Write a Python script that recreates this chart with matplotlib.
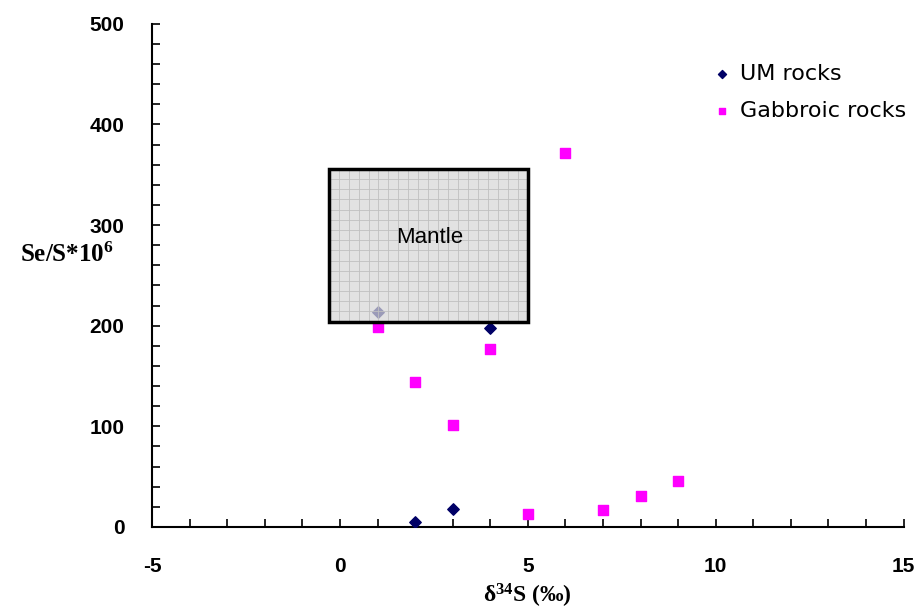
import numpy as np
import matplotlib.pyplot as plt
from matplotlib.patches import Rectangle
from matplotlib.ticker import MultipleLocator

plt.rcParams['axes.unicode_minus'] = False
plt.rcParams['mathtext.fontset'] = 'custom'
plt.rcParams['mathtext.rm'] = 'Liberation Serif'
plt.rcParams['mathtext.bf'] = 'Liberation Serif:bold'
plt.rcParams['mathtext.it'] = 'Liberation Serif:italic'

# data
um_x = [1, 2, 3, 4]
um_y = [214, 5, 18, 198]
gab_x = [1, 2, 3, 4, 5, 6, 7, 8, 9]
gab_y = [199, 144, 101, 177, 13, 372, 17, 31, 46]

# mantle field
mantle_x = (-0.3, 5.0)
mantle_y = (204, 356)

fig = plt.figure(figsize=(9.22, 6.12), dpi=100)
ax = fig.add_axes([0.165, 0.139, 0.815, 0.822])

ax.scatter(gab_x, gab_y, marker='s', s=48, color='#ff00ff', label='Gabbroic rocks', zorder=3)
ax.scatter(um_x, um_y, marker='D', s=34, color='#000066', label='UM rocks', zorder=3)

# mantle box: grey with fine grid, semi transparent so the point underneath shows
ax.add_patch(Rectangle((mantle_x[0], mantle_y[0]), mantle_x[1] - mantle_x[0],
                       mantle_y[1] - mantle_y[0], facecolor='#d8d8d8', alpha=0.72,
                       edgecolor='none', zorder=4))
for gx in np.linspace(mantle_x[0], mantle_x[1], 21)[1:-1]:
    ax.plot([gx, gx], mantle_y, color='#c0c0c0', lw=0.6, zorder=4.5)
for gy in np.linspace(mantle_y[0], mantle_y[1], 16)[1:-1]:
    ax.plot(mantle_x, [gy, gy], color='#c0c0c0', lw=0.6, zorder=4.5)
ax.add_patch(Rectangle((mantle_x[0], mantle_y[0]), mantle_x[1] - mantle_x[0],
                       mantle_y[1] - mantle_y[0], facecolor='none',
                       edgecolor='black', lw=2.5, zorder=5))
ax.text(2.4, 288, 'Mantle', fontsize=16, family='Liberation Sans',
        ha='center', va='center', zorder=6)

ax.set_xlim(-5, 15)
ax.set_ylim(0, 500)
ax.xaxis.set_major_locator(MultipleLocator(5))
ax.xaxis.set_minor_locator(MultipleLocator(1))
ax.yaxis.set_major_locator(MultipleLocator(100))
ax.yaxis.set_minor_locator(MultipleLocator(20))
ax.tick_params(which='both', direction='in', width=1.2, labelsize=15)
ax.tick_params(which='major', length=6)
ax.tick_params(which='minor', length=6)
ax.tick_params(axis='x', pad=22)
ax.tick_params(axis='y', pad=20)
for lab in ax.get_xticklabels() + ax.get_yticklabels():
    lab.set_fontweight('bold')
    lab.set_family('Liberation Sans')

ax.spines['top'].set_visible(False)
ax.spines['right'].set_visible(False)
ax.spines['left'].set_linewidth(1.5)
ax.spines['bottom'].set_linewidth(1.5)

ax.set_xlabel(r'$\mathbf{\delta^{34}S\ (‰)}$', fontsize=17, labelpad=4)
fig.text(0.022, 0.583, r'Se/S*10$^{\mathbf{6}}$', fontsize=18, fontweight='bold',
         family='Liberation Serif', ha='left', va='center')

handles, labels = ax.get_legend_handles_labels()
leg = ax.legend(handles[::-1], labels[::-1], loc='upper right', bbox_to_anchor=(1.03, 0.96),
                frameon=False, handletextpad=-0.2, markerscale=0.7,
                labelspacing=0.75, prop={'family': 'DejaVu Sans', 'size': 16})

fig.savefig('out.png', dpi=100)
